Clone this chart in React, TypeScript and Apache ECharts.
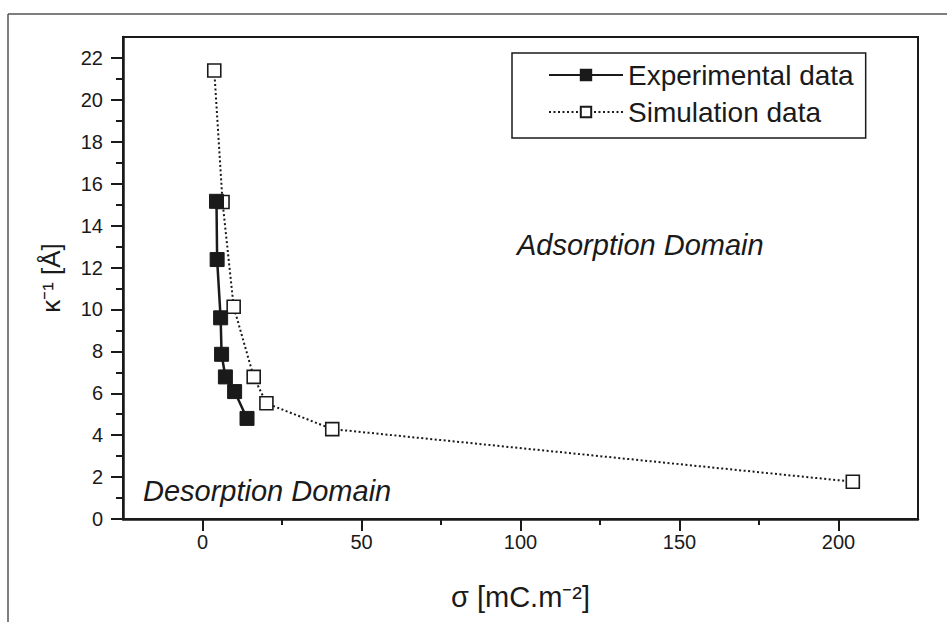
import React, { useEffect, useRef } from 'react';
import * as echarts from 'echarts';

// Data
const seriesNames = ['Experimental data', 'Simulation data'];
const expSigma = [4.4, 4.6, 5.7, 6.0, 7.2, 10.1, 14.0];
const expKappa = [15.16, 12.38, 9.6, 7.86, 6.78, 6.08, 4.8];
const simSigma = [3.7, 6.3, 9.8, 16.1, 20.1, 40.8, 204.5];
const simKappa = [21.4, 15.13, 10.13, 6.78, 5.52, 4.29, 1.78];

const xMajorTicks = [0, 50, 100, 150, 200];
const xMinorTicks = [25, 75, 125, 175];
const yMajorTicks = [0, 2, 4, 6, 8, 10, 12, 14, 16, 18, 20, 22];
const yMinorTicks = [1, 3, 5, 7, 9, 11, 13, 15, 17, 19, 21];

const xTitle = 'σ [mC.m⁻²]';
const yTitle = 'κ⁻¹ [Å]';
const annotations = ['Adsorption Domain', 'Desorption Domain'];

export default function App() {
  const ref = useRef<HTMLDivElement>(null);

  useEffect(() => {
    document.body.style.margin = '0';
    const chart = echarts.init(ref.current!, null, { renderer: 'svg' });
    const font = '"Liberation Sans", Arial, Helvetica, sans-serif';
    const ink = '#1a1a1a';

    const zip = (xs: number[], ys: number[]) => xs.map((x, i) => [x, ys[i]]);

    chart.setOption({
      animation: false,
      backgroundColor: '#ffffff',
      textStyle: { fontFamily: font, color: ink },
      grid: {
        left: 123,
        right: 29,
        top: 37,
        bottom: 103,
        show: true,
        borderColor: ink,
        borderWidth: 2,
        backgroundColor: 'transparent',
      },
      legend: {
        data: seriesNames,
        orient: 'vertical',
        left: 512,
        top: 53,
        borderColor: ink,
        borderWidth: 1.5,
        padding: [8, 12, 12, 36],
        itemGap: 9,
        itemWidth: 74,
        itemHeight: 13,
        textStyle: { fontSize: 28, color: ink, fontFamily: font },
      },
      xAxis: [
        {
          type: 'value',
          min: -25,
          max: 225,
          position: 'bottom',
          axisLine: { show: true, onZero: false, lineStyle: { color: ink, width: 2.5 } },
          axisTick: { show: true, length: 12, customValues: xMajorTicks, lineStyle: { color: ink, width: 2 } },
          axisLabel: { customValues: xMajorTicks, fontSize: 20, color: ink, margin: 13, fontFamily: font },
          splitLine: { show: false },
          name: xTitle,
          nameLocation: 'middle',
          nameGap: 63,
          nameTextStyle: { fontSize: 29, color: ink, fontFamily: font },
        },
        {
          type: 'value',
          min: -25,
          max: 225,
          position: 'bottom',
          axisLine: { show: false, onZero: false },
          axisTick: { show: true, length: 6, customValues: xMinorTicks, lineStyle: { color: ink, width: 2 } },
          axisLabel: { show: false },
          splitLine: { show: false },
        },
      ],
      yAxis: [
        {
          type: 'value',
          min: 0,
          max: 23,
          position: 'left',
          axisLine: { show: true, onZero: false, lineStyle: { color: ink, width: 2.5 } },
          axisTick: { show: true, length: 12, customValues: yMajorTicks, lineStyle: { color: ink, width: 2 } },
          axisLabel: { customValues: yMajorTicks, fontSize: 20, color: ink, margin: 20, fontFamily: font },
          splitLine: { show: false },
          name: yTitle,
          nameLocation: 'middle',
          nameGap: 59,
          nameTextStyle: { fontSize: 26, color: ink, fontFamily: font },
        },
        {
          type: 'value',
          min: 0,
          max: 23,
          position: 'left',
          axisLine: { show: false, onZero: false },
          axisTick: { show: true, length: 7, customValues: yMinorTicks, lineStyle: { color: ink, width: 2 } },
          axisLabel: { show: false },
          splitLine: { show: false },
        },
      ],
      series: [
        {
          name: seriesNames[0],
          type: 'line',
          xAxisIndex: 0,
          yAxisIndex: 0,
          z: 4,
          data: zip(expSigma, expKappa),
          symbol: 'rect',
          symbolSize: 14,
          lineStyle: { color: ink, width: 2.5, type: 'solid' },
          itemStyle: { color: ink, borderColor: ink, borderWidth: 1 },
        },
        {
          name: seriesNames[1],
          type: 'line',
          xAxisIndex: 0,
          yAxisIndex: 0,
          z: 3,
          data: zip(simSigma, simKappa),
          symbol: 'rect',
          symbolSize: 13,
          lineStyle: { color: ink, width: 2, type: [2, 2.5] },
          itemStyle: { color: '#ffffff', borderColor: ink, borderWidth: 1.6 },
        },
      ],
      graphic: [
        { type: 'line', shape: { x1: 8, y1: 14, x2: 947, y2: 14 }, style: { stroke: '#555', lineWidth: 1.5 } },
        { type: 'line', shape: { x1: 8, y1: 14, x2: 8, y2: 622 }, style: { stroke: '#555', lineWidth: 1.5 } },
        {
          type: 'text',
          x: 517,
          y: 245,
          style: {
            text: annotations[0],
            fontSize: 29,
            fontStyle: 'italic',
            fontFamily: font,
            fill: ink,
            verticalAlign: 'middle',
          },
        },
        {
          type: 'text',
          x: 143,
          y: 491,
          style: {
            text: annotations[1],
            fontSize: 29,
            fontStyle: 'italic',
            fontFamily: font,
            fill: ink,
            verticalAlign: 'middle',
          },
        },
      ],
    });

    return () => chart.dispose();
  }, []);

  return <div ref={ref} style={{ width: 947, height: 622 }} />;
}
